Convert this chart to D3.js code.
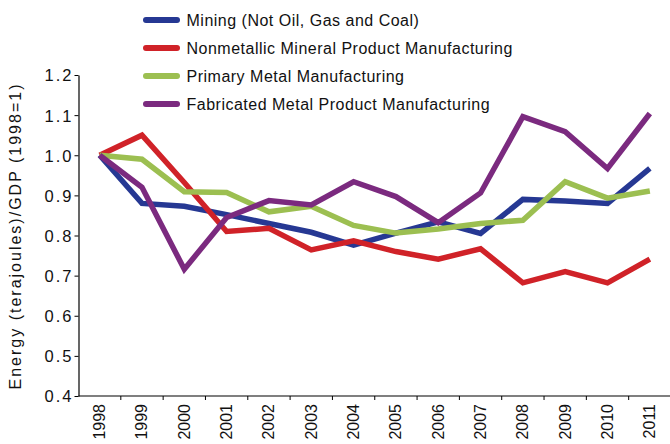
<!DOCTYPE html>
<html>
<head>
<meta charset="utf-8">
<script src="https://cdn.jsdelivr.net/npm/d3@7"></script>
<style>
  html, body { margin: 0; padding: 0; background: #fff; }
  svg { display: block; font-family: "Liberation Sans", Arial, sans-serif; }
</style>
</head>
<body>
<svg id="chart" width="670" height="444"></svg>
<script>
// Energy intensity by industry, indexed to 1998 = 1
const years = ["1998","1999","2000","2001","2002","2003","2004","2005","2006","2007","2008","2009","2010","2011"];
const mining       = [1.000, 0.880, 0.873, 0.852, 0.830, 0.808, 0.776, 0.806, 0.834, 0.805, 0.890, 0.886, 0.880, 0.967];
const nonmetallic  = [1.000, 1.050, 0.932, 0.810, 0.818, 0.764, 0.787, 0.760, 0.741, 0.767, 0.682, 0.710, 0.682, 0.741];
const primaryMetal = [1.000, 0.990, 0.909, 0.907, 0.859, 0.873, 0.825, 0.806, 0.816, 0.830, 0.838, 0.934, 0.893, 0.911];
const fabricated   = [1.000, 0.920, 0.716, 0.845, 0.887, 0.876, 0.934, 0.897, 0.832, 0.906, 1.096, 1.059, 0.967, 1.104];
const yTicks = [0.4, 0.5, 0.6, 0.7, 0.8, 0.9, 1.0, 1.1, 1.2];

const series = [
  { name: "Mining (Not Oil, Gas and Coal)",             values: mining,       color: "#263893" },
  { name: "Nonmetallic Mineral Product Manufacturing",  values: nonmetallic,  color: "#d02228" },
  { name: "Primary Metal Manufacturing",                values: primaryMetal, color: "#9cbf51" },
  { name: "Fabricated Metal Product Manufacturing",     values: fabricated,   color: "#7b2a7f" }
];

const svg = d3.select("#chart");
const plot = { left: 78.5, right: 671, top: 75, bottom: 396 };

const x = d3.scaleBand().domain(years).range([plot.left, plot.right]).padding(0);
const y = d3.scaleLinear().domain([0.4, 1.2]).range([plot.bottom, plot.top]);

// y axis
const yAxis = svg.append("g")
  .attr("transform", `translate(${plot.left},0)`)
  .call(d3.axisLeft(y).tickValues(yTicks).tickFormat(d3.format(".1f")).tickSize(4).tickSizeOuter(0));
yAxis.select(".domain").attr("stroke", "#000").attr("stroke-width", 1.2);
yAxis.selectAll(".tick line").attr("stroke", "#000");
yAxis.selectAll(".tick text")
  .attr("font-size", 16.5)
  .attr("letter-spacing", 2)
  .attr("fill", "#111")
  .attr("x", -5)
  .attr("dy", "0.36em")
  .attr("font-family", "'Liberation Sans', Arial, sans-serif");

// x axis: ticks sit on band boundaries, labels at band centres
const xAxis = svg.append("g").attr("transform", `translate(0,${plot.bottom})`);
xAxis.append("line")
  .attr("x1", plot.left).attr("x2", plot.right)
  .attr("y1", 0).attr("y2", 0)
  .attr("stroke", "#000").attr("stroke-width", 1.2);
xAxis.selectAll("line.tk")
  .data(years.slice(1))
  .join("line")
  .attr("class", "tk")
  .attr("x1", d => x(d)).attr("x2", d => x(d))
  .attr("y1", 0).attr("y2", 4)
  .attr("stroke", "#000");
xAxis.selectAll("text")
  .data(years)
  .join("text")
  .attr("transform", d => `translate(${x(d) + x.bandwidth() / 2 + 5.5},8) rotate(-90)`)
  .attr("text-anchor", "end")
  .attr("font-size", 16)
  .attr("fill", "#111")
  .text(d => d);

// y axis title
svg.append("text")
  .attr("transform", `translate(21,236) rotate(-90)`)
  .attr("text-anchor", "middle")
  .attr("font-size", 16)
  .attr("letter-spacing", 2)
  .attr("fill", "#111")
  .text("Energy (terajoules)/GDP (1998=1)");

// series lines
const line = d3.line()
  .x((d, i) => x(years[i]) + x.bandwidth() / 2)
  .y(d => y(d));

svg.append("g").selectAll("path")
  .data(series)
  .join("path")
  .attr("d", d => line(d.values))
  .attr("fill", "none")
  .attr("stroke", d => d.color)
  .attr("stroke-width", 5.5)
  .attr("stroke-linejoin", "miter")
  .attr("stroke-linecap", "butt");

// legend
const legend = svg.append("g").attr("transform", "translate(146,20)");
const rows = legend.selectAll("g").data(series).join("g")
  .attr("transform", (d, i) => `translate(0,${i * 28})`);
rows.append("line")
  .attr("x1", 0).attr("x2", 31)
  .attr("y1", 0).attr("y2", 0)
  .attr("stroke", d => d.color)
  .attr("stroke-width", 6)
  .attr("stroke-linecap", "round");
rows.append("text")
  .attr("x", 40.5).attr("y", 6)
  .attr("font-size", 16)
  .attr("letter-spacing", 0.5)
  .attr("fill", "#111")
  .text(d => d.name);
</script>
</body>
</html>
